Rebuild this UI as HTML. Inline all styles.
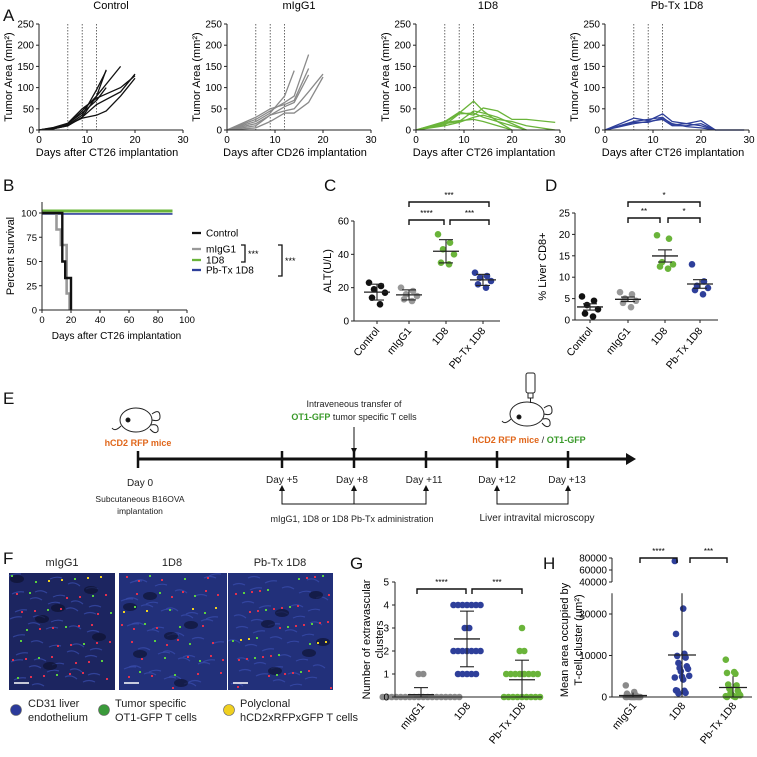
<!DOCTYPE html>
<html><head><meta charset="utf-8"><style>
html,body{margin:0;padding:0;background:#fff}
svg{display:block;font-family:"Liberation Sans",Arial,sans-serif}
</style></head><body>
<svg id="fig" width="757" height="757" viewBox="0 0 757 757" xmlns="http://www.w3.org/2000/svg">
<g font-size="17" fill="#111">
<text x="3" y="21">A</text><text x="3" y="191">B</text><text x="324" y="191">C</text><text x="545" y="191">D</text>
<text x="3" y="404">E</text><text x="3" y="564">F</text><text x="350" y="569">G</text><text x="543" y="569">H</text>
</g>
<g id="panelE" font-size="10" fill="#222" text-anchor="middle">
<line x1="138" y1="459" x2="628" y2="459" stroke="#111" stroke-width="3"/>
<polygon points="626,453 636,459 626,465" fill="#111"/>
<g stroke="#111" stroke-width="2.5"><line x1="138" y1="451" x2="138" y2="468"/><line x1="282" y1="451" x2="282" y2="468"/><line x1="354" y1="451" x2="354" y2="468"/><line x1="426" y1="451" x2="426" y2="468"/><line x1="497" y1="451" x2="497" y2="468"/><line x1="568" y1="451" x2="568" y2="468"/></g>
<text x="140" y="486">Day 0</text><text x="282" y="483">Day +5</text><text x="352" y="483">Day +8</text><text x="424" y="483">Day +11</text><text x="497" y="483">Day +12</text><text x="567" y="483">Day +13</text>
<text x="140" y="502" font-size="8.5">Subcutaneous B16OVA</text><text x="140" y="514" font-size="8.5">implantation</text>
<g stroke="#111" stroke-width="1" fill="none"><polyline points="282,489 282,504 426,504 426,489"/><line x1="354" y1="504" x2="354" y2="489"/><polyline points="497,489 497,504 568,504 568,489"/><line x1="354" y1="427" x2="354" y2="450"/></g>
<g fill="#111"><polygon points="279,491 282,485 285,491"/><polygon points="351,491 354,485 357,491"/><polygon points="423,491 426,485 429,491"/><polygon points="494,491 497,485 500,491"/><polygon points="565,491 568,485 571,491"/><polygon points="351,448 354,454 357,448"/></g>
<text x="352" y="522" font-size="9">mIgG1, 1D8 or 1D8 Pb-Tx administration</text>
<text x="537" y="521">Liver intravital microscopy</text>
<text x="354" y="407" font-size="9">Intraveneous transfer of</text>
<text x="354" y="420" font-size="9"><tspan fill="#3a9a2a" font-weight="bold">OT1-GFP</tspan> tumor specific T cells</text>
<text x="138" y="446" font-size="9" fill="#e0661a" font-weight="bold">hCD2 RFP mice</text>
<text x="529" y="443" font-size="9" fill="#e0661a" font-weight="bold">hCD2 RFP mice <tspan fill="#222" font-weight="normal">/</tspan> <tspan fill="#3a9a2a">OT1-GFP</tspan></text>
<g fill="none" stroke="#222" stroke-width="1">
<ellipse cx="136" cy="420" rx="16" ry="12"/><path d="M152,414 q8,-6 8,3 q0,5 -8,3 M151,425 q8,-2 7,6 q-3,4 -8,-2"/><path d="M121,426 q-6,6 -9,2"/>
<circle cx="128" cy="420" r="2" fill="#111"/></g>
<g fill="none" stroke="#222" stroke-width="1">
<ellipse cx="527" cy="414" rx="17" ry="12"/><path d="M544,408 q8,-6 8,3 q0,5 -8,3 M543,419 q8,-2 7,6 q-3,4 -8,-2"/><path d="M511,419 q-6,6 -9,2"/>
<circle cx="519" cy="417" r="2" fill="#111"/>
<rect x="526" y="373" width="9" height="20" rx="2"/><rect x="528" y="393" width="5" height="5"/><line x1="530.5" y1="398" x2="530.5" y2="403"/></g>
</g>
<g id="panelF" font-size="11" fill="#222" text-anchor="middle">
<text x="62" y="566">mIgG1</text><text x="172" y="566">1D8</text><text x="280" y="566">Pb-Tx 1D8</text>
<g text-anchor="start" font-size="11">
<circle cx="16" cy="710" r="5.5" fill="#2b3a9a" stroke="#666" stroke-width="0.6"/><text x="28" y="707">CD31 liver</text><text x="28" y="721">endothelium</text>
<circle cx="104" cy="710" r="5.5" fill="#3a9a3a" stroke="#666" stroke-width="0.6"/><text x="115" y="707">Tumor specific</text><text x="115" y="721">OT1-GFP T cells</text>
<circle cx="229" cy="710" r="5.5" fill="#f0d020" stroke="#666" stroke-width="0.6"/><text x="224" y="707" dx="16">Polyclonal</text><text x="224" y="721" dx="16">hCD2xRFPxGFP T cells</text>
</g>
</g>
<g id="charts"></g>
</svg>
<script>
const NS="http://www.w3.org/2000/svg";
const root=document.getElementById('charts');
function mk(tag,attrs,parent){const e=document.createElementNS(NS,tag);for(const k in attrs)e.setAttribute(k,attrs[k]);(parent||root).appendChild(e);return e;}
function txt(x,y,s,attrs,parent){const e=mk('text',Object.assign({x:x,y:y},attrs||{}),parent);e.textContent=s;return e;}

/* ---------- Panel A data ---------- */
const aTitles=["Control","mIgG1","1D8","Pb-Tx 1D8"];
const aXLabels=["Days after CT26 implantation","Days after CD26 implantation","Days after CT26 implantation","Days after CT26 implantation"];
const aYTicks=[0,50,100,150,200,250];
const aXTicks=[0,10,20,30];
const aDoseDays=[6,9,12];
const aControl=[
[[0,0],[3,3],[6,10],[9,30],[12,80],[14,142]],
[[0,0],[3,4],[6,12],[9,35],[12,95],[14,140]],
[[0,0],[3,5],[6,15],[9,40],[12,70],[14,100]],
[[0,0],[3,5],[6,14],[9,45],[12,80],[17,150]],
[[0,0],[3,3],[6,10],[9,30],[12,60],[17,90],[20,132]],
[[0,0],[3,4],[6,12],[9,28],[12,35],[14,45],[17,80],[20,122]],
[[0,0],[3,6],[6,16],[9,50],[12,75],[14,85],[17,100],[20,128]]];
const aIgG=[
[[0,0],[6,20],[9,40],[12,80],[14,140]],
[[0,0],[6,25],[9,45],[12,65],[14,80],[17,178]],
[[0,0],[6,30],[9,50],[12,60],[14,70],[17,145]],
[[0,0],[6,10],[9,35],[12,55],[14,65],[17,130]],
[[0,0],[6,5],[9,20],[12,40],[14,40],[17,65],[20,125]],
[[0,0],[6,15],[9,35],[12,45],[14,50],[17,90],[20,132]]];
const a1D8=[
[[0,0],[6,18],[9,40],[12,68],[14,45],[17,20],[20,0]],
[[0,0],[6,20],[9,42],[12,35],[14,52],[17,45],[20,25],[23,25],[29,18]],
[[0,0],[6,15],[9,20],[12,45],[14,40],[17,30],[20,15],[23,0]],
[[0,0],[6,12],[9,38],[12,40],[14,30],[17,20],[20,10],[23,0]],
[[0,0],[6,18],[9,22],[12,25],[14,20],[17,10],[20,0]],
[[0,0],[6,10],[9,18],[12,30],[14,35],[17,25],[20,20],[23,10],[29,0]]];
const aPbTx=[
[[0,0],[6,28],[9,22],[12,38],[14,20],[17,15],[20,22],[23,0],[29,0]],
[[0,0],[6,20],[9,25],[12,30],[14,12],[17,15],[20,10],[23,0]],
[[0,0],[6,15],[9,20],[12,25],[14,10],[17,10],[20,15],[23,0]],
[[0,0],[6,18],[9,18],[12,28],[14,15],[17,8],[20,5],[23,0],[29,0]]];
const aSeries=[aControl,aIgG,a1D8,aPbTx];
const aColors=["#111","#8a8a8a","#6ab43a","#2e3f9a"];
const aX0=[39,227,416,605];

aSeries.forEach((series,p)=>{
  const g=mk('g',{});
  
  
  const x0=aX0[p],W=144,y0=130,H=106;
  const sx=d=>x0+d/30*W, sy=v=>y0-v/250*H;
  txt(x0+W/2,9,aTitles[p],{'font-size':11,'text-anchor':'middle'},g);
  aDoseDays.forEach(d=>{const l=mk('line',{x1:sx(d),x2:sx(d),y1:sy(250),y2:y0,stroke:'#444','stroke-width':0.8,'stroke-dasharray':'1.5,1.5'},g);});
  series.forEach(s=>{const pl=mk('polyline',{points:s.map(q=>sx(q[0])+','+sy(q[1])).join(' '),fill:'none',stroke:aColors[p],'stroke-width':1.3},g);});
  mk('line',{x1:x0,x2:x0,y1:sy(250),y2:y0,stroke:'#222','stroke-width':1},g);
  mk('line',{x1:x0,x2:x0+W,y1:y0,y2:y0,stroke:'#222','stroke-width':1},g);
  aYTicks.forEach(t=>{mk('line',{x1:x0-3,x2:x0,y1:sy(t),y2:sy(t),stroke:'#222'},g);txt(x0-5,sy(t)+3.5,String(t),{'font-size':10,'text-anchor':'end'},g);});
  aXTicks.forEach(t=>{mk('line',{x1:sx(t),x2:sx(t),y1:y0,y2:y0+3,stroke:'#222'},g);txt(sx(t),y0+13,String(t),{'font-size':10,'text-anchor':'middle'},g);});
  txt(x0+W/2-4,156,aXLabels[p],{'font-size':11,'text-anchor':'middle'},g);
  txt(0,0,'Tumor Area (mm²)',{'font-size':11,'text-anchor':'middle',transform:`translate(${x0-27},${y0-H/2}) rotate(-90)`},g);
});

/* ---------- Panel B data ---------- */
const bDays=[0,20,40,60,80,100];
const bPct=[0,25,50,75,100];
const bGroups=["Control","mIgG1","1D8","Pb-Tx 1D8"];
const bControl=[[0,100],[14,100],[14,50],[16,50],[16,33],[20,33],[20,0]];
const bIgG=[[0,100],[10,100],[10,83],[13,83],[13,67],[17,67],[17,17],[19,17],[19,0]];
const b1D8=[[0,102],[90,102]];
const bPbTx=[[0,99],[90,99]];
(function(){
  const g=mk('g',{});
  const x0=42,W=145,y0=310,H=97;
  const sx=d=>x0+d/100*W, sy=v=>y0-v/100*H;
  const step=(s,c,w)=>{const pl=mk('polyline',{points:s.map(q=>sx(q[0])+','+sy(q[1])).join(' '),fill:'none',stroke:c,'stroke-width':w},g);};
  step(b1D8,'#6ab43a',3);step(bPbTx,'#2e3f9a',1.6);step(bIgG,'#999',2.6);step(bControl,'#111',2.4);
  mk('line',{x1:x0,x2:x0,y1:202,y2:y0,stroke:'#222'},g);
  mk('line',{x1:x0,x2:x0+W,y1:y0,y2:y0,stroke:'#222'},g);
  bPct.forEach(t=>{mk('line',{x1:x0-3,x2:x0,y1:sy(t),y2:sy(t),stroke:'#222'},g);txt(x0-5,sy(t)+3.5,String(t),{'font-size':9.5,'text-anchor':'end'},g);});
  bDays.forEach(t=>{mk('line',{x1:sx(t),x2:sx(t),y1:y0,y2:y0+3,stroke:'#222'},g);txt(sx(t),y0+13,String(t),{'font-size':9.5,'text-anchor':'middle'},g);});
  txt(x0+W/2+2,339,'Days after CT26 implantation',{'font-size':10,'text-anchor':'middle'},g);
  txt(0,0,'Percent survival',{'font-size':11,'text-anchor':'middle',transform:`translate(14,256) rotate(-90)`},g);
  const lc=['#111','#999','#6ab43a','#2e3f9a'];const ly=[233,249,260,270];
  bGroups.forEach((n,i)=>{const y=ly[i];mk('line',{x1:192,x2:201,y1:y,y2:y,stroke:lc[i],'stroke-width':2.3},g);const t=txt(206,y+3.5,n,{'font-size':10},g);});
  mk('polyline',{points:'241,245 245,245 245,262 241,262',fill:'none',stroke:'#111','stroke-width':1.3},g);
  txt(248,257,'***',{'font-size':9},g);
  mk('polyline',{points:'278,245 282,245 282,276 278,276',fill:'none',stroke:'#111','stroke-width':1.3},g);
  txt(285,264,'***',{'font-size':9},g);
})();

/* ---------- Scatter helpers ---------- */
const jitterPattern=[-8,4,-3,8,-5,3];
function mean(a){return a.reduce((s,v)=>s+v,0)/a.length;}
function sd(a){const m=mean(a);return Math.sqrt(a.reduce((s,v)=>s+(v-m)*(v-m),0)/(a.length-1));}
function dotPlot(g,cx,vals,sy,col,r,sp,errType,jitter){
  if(jitter){vals.forEach((v,i)=>{const c=mk('circle',{cx:cx+jitterPattern[i%jitterPattern.length],cy:sy(v),r:r,fill:col},g);});}
  else{const groups={};vals.forEach(v=>{(groups[v]=groups[v]||[]).push(v);});
  Object.keys(groups).forEach(k=>{const n=groups[k].length;groups[k].forEach((v,i)=>{const c=mk('circle',{cx:cx+(i-(n-1)/2)*sp,cy:sy(v),r:r,fill:col},g);});});}
  const m=mean(vals);let e=sd(vals);if(errType==='sem')e=e/Math.sqrt(vals.length);
  const yt=sy(m+e),yb=sy(Math.max(m-e,0));
  mk('line',{x1:cx-13,x2:cx+13,y1:sy(m),y2:sy(m),stroke:'#222','stroke-width':1.3},g);
  mk('line',{x1:cx,x2:cx,y1:yt,y2:yb,stroke:'#222','stroke-width':1.1},g);
  mk('line',{x1:cx-7,x2:cx+7,y1:yt,y2:yt,stroke:'#222','stroke-width':1.1},g);
  mk('line',{x1:cx-7,x2:cx+7,y1:yb,y2:yb,stroke:'#222','stroke-width':1.1},g);
}
function bracket(g,x1,x2,y,label){mk('polyline',{points:`${x1},${y+5} ${x1},${y} ${x2},${y} ${x2},${y+5}`,fill:'none',stroke:'#111','stroke-width':1.4},g);txt((x1+x2)/2,y-4,label,{'font-size':8,'text-anchor':'middle'},g);}
function catLabels(g,xs,names,y,fs){names.forEach((n,i)=>{txt(0,0,n,{'font-size':fs,'text-anchor':'end',transform:`translate(${xs[i]+3},${y}) rotate(-50)`},g);});}

/* ---------- Panel C data ---------- */
const cGroups=["Control","mIgG1","1D8","Pb-Tx 1D8"];
const cTicks=[0,20,40,60];
const cControl=[23,21,19,17,14,10];
const cIgG=[20,18,16,15,13,12];
const c1D8=[52,47,43,40,35,34];
const cPbTx=[29,27,26,24,22,20];
const cColors=["#111","#999","#6ab43a","#2e3f9a"];
(function(){
  const g=mk('g',{});
  const x0=354,y0=321,H=100;const sy=v=>y0-v/60*H;const xs=[377,409,446,483];
  [cControl,cIgG,c1D8,cPbTx].forEach((d,i)=>dotPlot(g,xs[i],d,sy,cColors[i],3.3,5,'sd',true));
  mk('line',{x1:x0,x2:x0,y1:sy(60),y2:y0,stroke:'#222'},g);mk('line',{x1:x0,x2:500,y1:y0,y2:y0,stroke:'#222'},g);
  cTicks.forEach(t=>{mk('line',{x1:x0-3,x2:x0,y1:sy(t),y2:sy(t),stroke:'#222'},g);txt(x0-5,sy(t)+3.5,String(t),{'font-size':10,'text-anchor':'end'},g);});
  xs.forEach(x=>mk('line',{x1:x,x2:x,y1:y0,y2:y0+3,stroke:'#222'},g));
  txt(0,0,'ALT(U/L)',{'font-size':11,'text-anchor':'middle',transform:`translate(331,${y0-H/2}) rotate(-90)`},g);
  bracket(g,409,444,220,'****');bracket(g,450,489,220,'***');bracket(g,409,489,202,'***');
  catLabels(g,xs,cGroups,331,10.5);
})();

/* ---------- Panel D data ---------- */
const dGroups=["Control","mIgG1","1D8","Pb-Tx 1D8"];
const dTicks=[0,5,10,15,20,25];
const dControl=[5.5,4.5,3.5,2.5,1.5,0.8];
const dIgG=[6.5,6,5,4.5,4,3];
const d1D8=[19.8,19,13.5,13,12.5,12];
const dPbTx=[13,9,8,7.5,7,6];
(function(){
  const g=mk('g',{});
  const x0=575,y0=320,H=107;const sy=v=>y0-v/25*H;const xs=[590,628,665,700];
  [dControl,dIgG,d1D8,dPbTx].forEach((d,i)=>dotPlot(g,xs[i],d,sy,cColors[i],3.3,5,'sem',true));
  mk('line',{x1:x0,x2:x0,y1:sy(25),y2:y0,stroke:'#222'},g);mk('line',{x1:x0,x2:718,y1:y0,y2:y0,stroke:'#222'},g);
  dTicks.forEach(t=>{mk('line',{x1:x0-3,x2:x0,y1:sy(t),y2:sy(t),stroke:'#222'},g);txt(x0-5,sy(t)+3.5,String(t),{'font-size':10,'text-anchor':'end'},g);});
  xs.forEach(x=>mk('line',{x1:x,x2:x,y1:y0,y2:y0+3,stroke:'#222'},g));
  txt(0,0,'% Liver CD8+',{'font-size':11,'text-anchor':'middle',transform:`translate(546,${y0-H/2}) rotate(-90)`},g);
  bracket(g,628,660,218,'**');bracket(g,668,700,218,'*');bracket(g,628,700,202,'*');
  catLabels(g,xs,dGroups,331,10.5);
})();

/* ---------- Panel G data ---------- */
const gGroups=["mIgG1","1D8","Pb-Tx 1D8"];
const gTicks=[0,1,2,3,4,5];
const gIgG=[1,1,0,0,0,0,0,0,0,0,0,0,0,0,0,0,0,0,0,0];
const g1D8=[4,4,4,4,4,4,4,3,3,2,2,2,2,2,2,2,1,1,1,1,1];
const gPbTx=[3,2,2,1,1,1,1,1,1,1,1,0,0,0,0,0,0,0,0,0];
const gColors=["#8a8a8a","#2e3f9a","#6ab43a"];
(function(){
  const g=mk('g',{});
  const x0=395,y0=697,H=115;const sy=v=>y0-v/5*H;const xs=[421,467,522];
  [gIgG,g1D8,gPbTx].forEach((d,i)=>dotPlot(g,xs[i],d,sy,gColors[i],3.3,4.5,'sd',false));
  mk('line',{x1:x0,x2:x0,y1:sy(5),y2:y0,stroke:'#222'},g);mk('line',{x1:x0,x2:542,y1:y0,y2:y0,stroke:'#222'},g);
  gTicks.forEach(t=>{mk('line',{x1:x0-3,x2:x0,y1:sy(t),y2:sy(t),stroke:'#222'},g);txt(x0-6,sy(t)+3.5,String(t),{'font-size':10,'text-anchor':'end'},g);});
  txt(0,0,'Number of extravascular',{'font-size':11,'text-anchor':'middle',transform:`translate(370,${y0-H/2}) rotate(-90)`},g);
  txt(0,0,'clusters',{'font-size':11,'text-anchor':'middle',transform:`translate(383,${y0-H/2}) rotate(-90)`},g);
  bracket(g,417,466,589,'****');bracket(g,472,522,589,'***');
  gGroups.forEach((n,i)=>txt(0,0,n,{'font-size':10.5,'text-anchor':'end',transform:`translate(${xs[i]+4},${706}) rotate(-50)`},g));
})();

/* ---------- Panel H data ---------- */
const hGroups=["mIgG1","1D8","Pb-Tx 1D8"];
const hTicksLow=[0,10000,20000];
const hTicksHigh=[40000,60000,80000];
const hIgG=[2800,1200,800,500,300,200,100,0,0,0,0,0,0,0,0,0,0];
const h1D8=[75000,21300,15200,10400,9900,9500,8200,7400,7000,6800,6200,5100,4900,4700,4200,1600,1500,1500,1000,900];
const hPbTx=[9000,6000,5800,5600,3000,2800,2000,1500,1000,800,500,400,300,200,100,0,0];
(function(){
  const g=mk('g',{});
  const x0=612,y0=697;
  const sy=v=>v<=25000?y0-v/20000*83:582-(v-40000)/40000*24;
  const xs=[633,682,733];
  const hc=["#8a8a8a","#2e3f9a","#6ab43a"];
  [hIgG,h1D8,hPbTx].forEach((d,i)=>{
    const m=mean(d),e=sd(d);
    d.forEach((v,j)=>{const c=mk('circle',{cx:xs[i]+((j*7)%13-6)*1.2,cy:sy(v),r:3.3,fill:hc[i]},g);});
    const yt=sy(Math.min(m+e,25000)),yb=sy(Math.max(m-e,0));
    mk('line',{x1:xs[i]-14,x2:xs[i]+14,y1:sy(m),y2:sy(m),stroke:'#222','stroke-width':1.3},g);
    mk('line',{x1:xs[i],x2:xs[i],y1:yt,y2:yb,stroke:'#222','stroke-width':1.1},g);
    mk('line',{x1:xs[i]-8,x2:xs[i]+8,y1:yb,y2:yb,stroke:'#222','stroke-width':1.1},g);
  });
  mk('line',{x1:x0,x2:x0,y1:sy(25000),y2:y0,stroke:'#222'},g);
  mk('line',{x1:x0,x2:x0,y1:sy(80000),y2:sy(40000),stroke:'#222'},g);
  mk('line',{x1:x0,x2:752,y1:y0,y2:y0,stroke:'#222'},g);
  hTicksLow.concat(hTicksHigh).forEach(t=>{mk('line',{x1:x0-3,x2:x0,y1:sy(t),y2:sy(t),stroke:'#222'},g);txt(x0-5,sy(t)+3.5,String(t),{'font-size':10,'text-anchor':'end'},g);});
  txt(0,0,'Mean area occupied by',{'font-size':11,'text-anchor':'middle',transform:`translate(568,640) rotate(-90)`},g);
  txt(0,0,'T-cell cluster (µm²)',{'font-size':11,'text-anchor':'middle',transform:`translate(582,640) rotate(-90)`},g);
  bracket(g,640,677,558,'****');bracket(g,690,727,558,'***');
  hGroups.forEach((n,i)=>txt(0,0,n,{'font-size':10.5,'text-anchor':'end',transform:`translate(${xs[i]+4},706) rotate(-50)`},g));
})();

/* ---------- Microscopy images (decorative) ---------- */
(function(){
  const boxes=[[9,573,106,117],[119,573,108,117],[228,573,105,117]];
  boxes.forEach((b,k)=>{
    const g=mk('g',{});
    mk('rect',{x:b[0],y:b[1],width:b[2],height:b[3],fill:k===0?'#1c2560':'#22307a'},g);
    for(let i=0;i<40;i++){const px=b[0]+((i*37+k*11)%(b[2]-14)),py=b[1]+3+((i*53+k*7)%(b[3]-6));
      mk('path',{d:`M${px},${py} q6,-3 12,${(i%5)-2}`,stroke:'#3a4fb0','stroke-width':1.2,fill:'none',opacity:0.7},g);}
    for(let i=0;i<6;i++){mk('ellipse',{cx:b[0]+8+((i*41+k*23)%(b[2]-16)),cy:b[1]+6+((i*29+k*17)%(b[3]-12)),rx:7,ry:4,fill:'#0c0f28',opacity:0.6},g);}
    for(let i=0;i<45;i++){const px=b[0]+2+((i*71+k*13)%(b[2]-4)),py=b[1]+2+((i*97+k*31)%(b[3]-4));
      mk('rect',{x:px,y:py,width:2,height:2,fill:i%3===0?'#5ad040':(i%7===0?'#f0d020':'#e03050')},g);}
    mk('line',{x1:b[0]+5,x2:b[0]+20,y1:b[1]+b[3]-7,y2:b[1]+b[3]-7,stroke:'#fff','stroke-width':1.5},g);
  });
})();
</script>
</body></html>
